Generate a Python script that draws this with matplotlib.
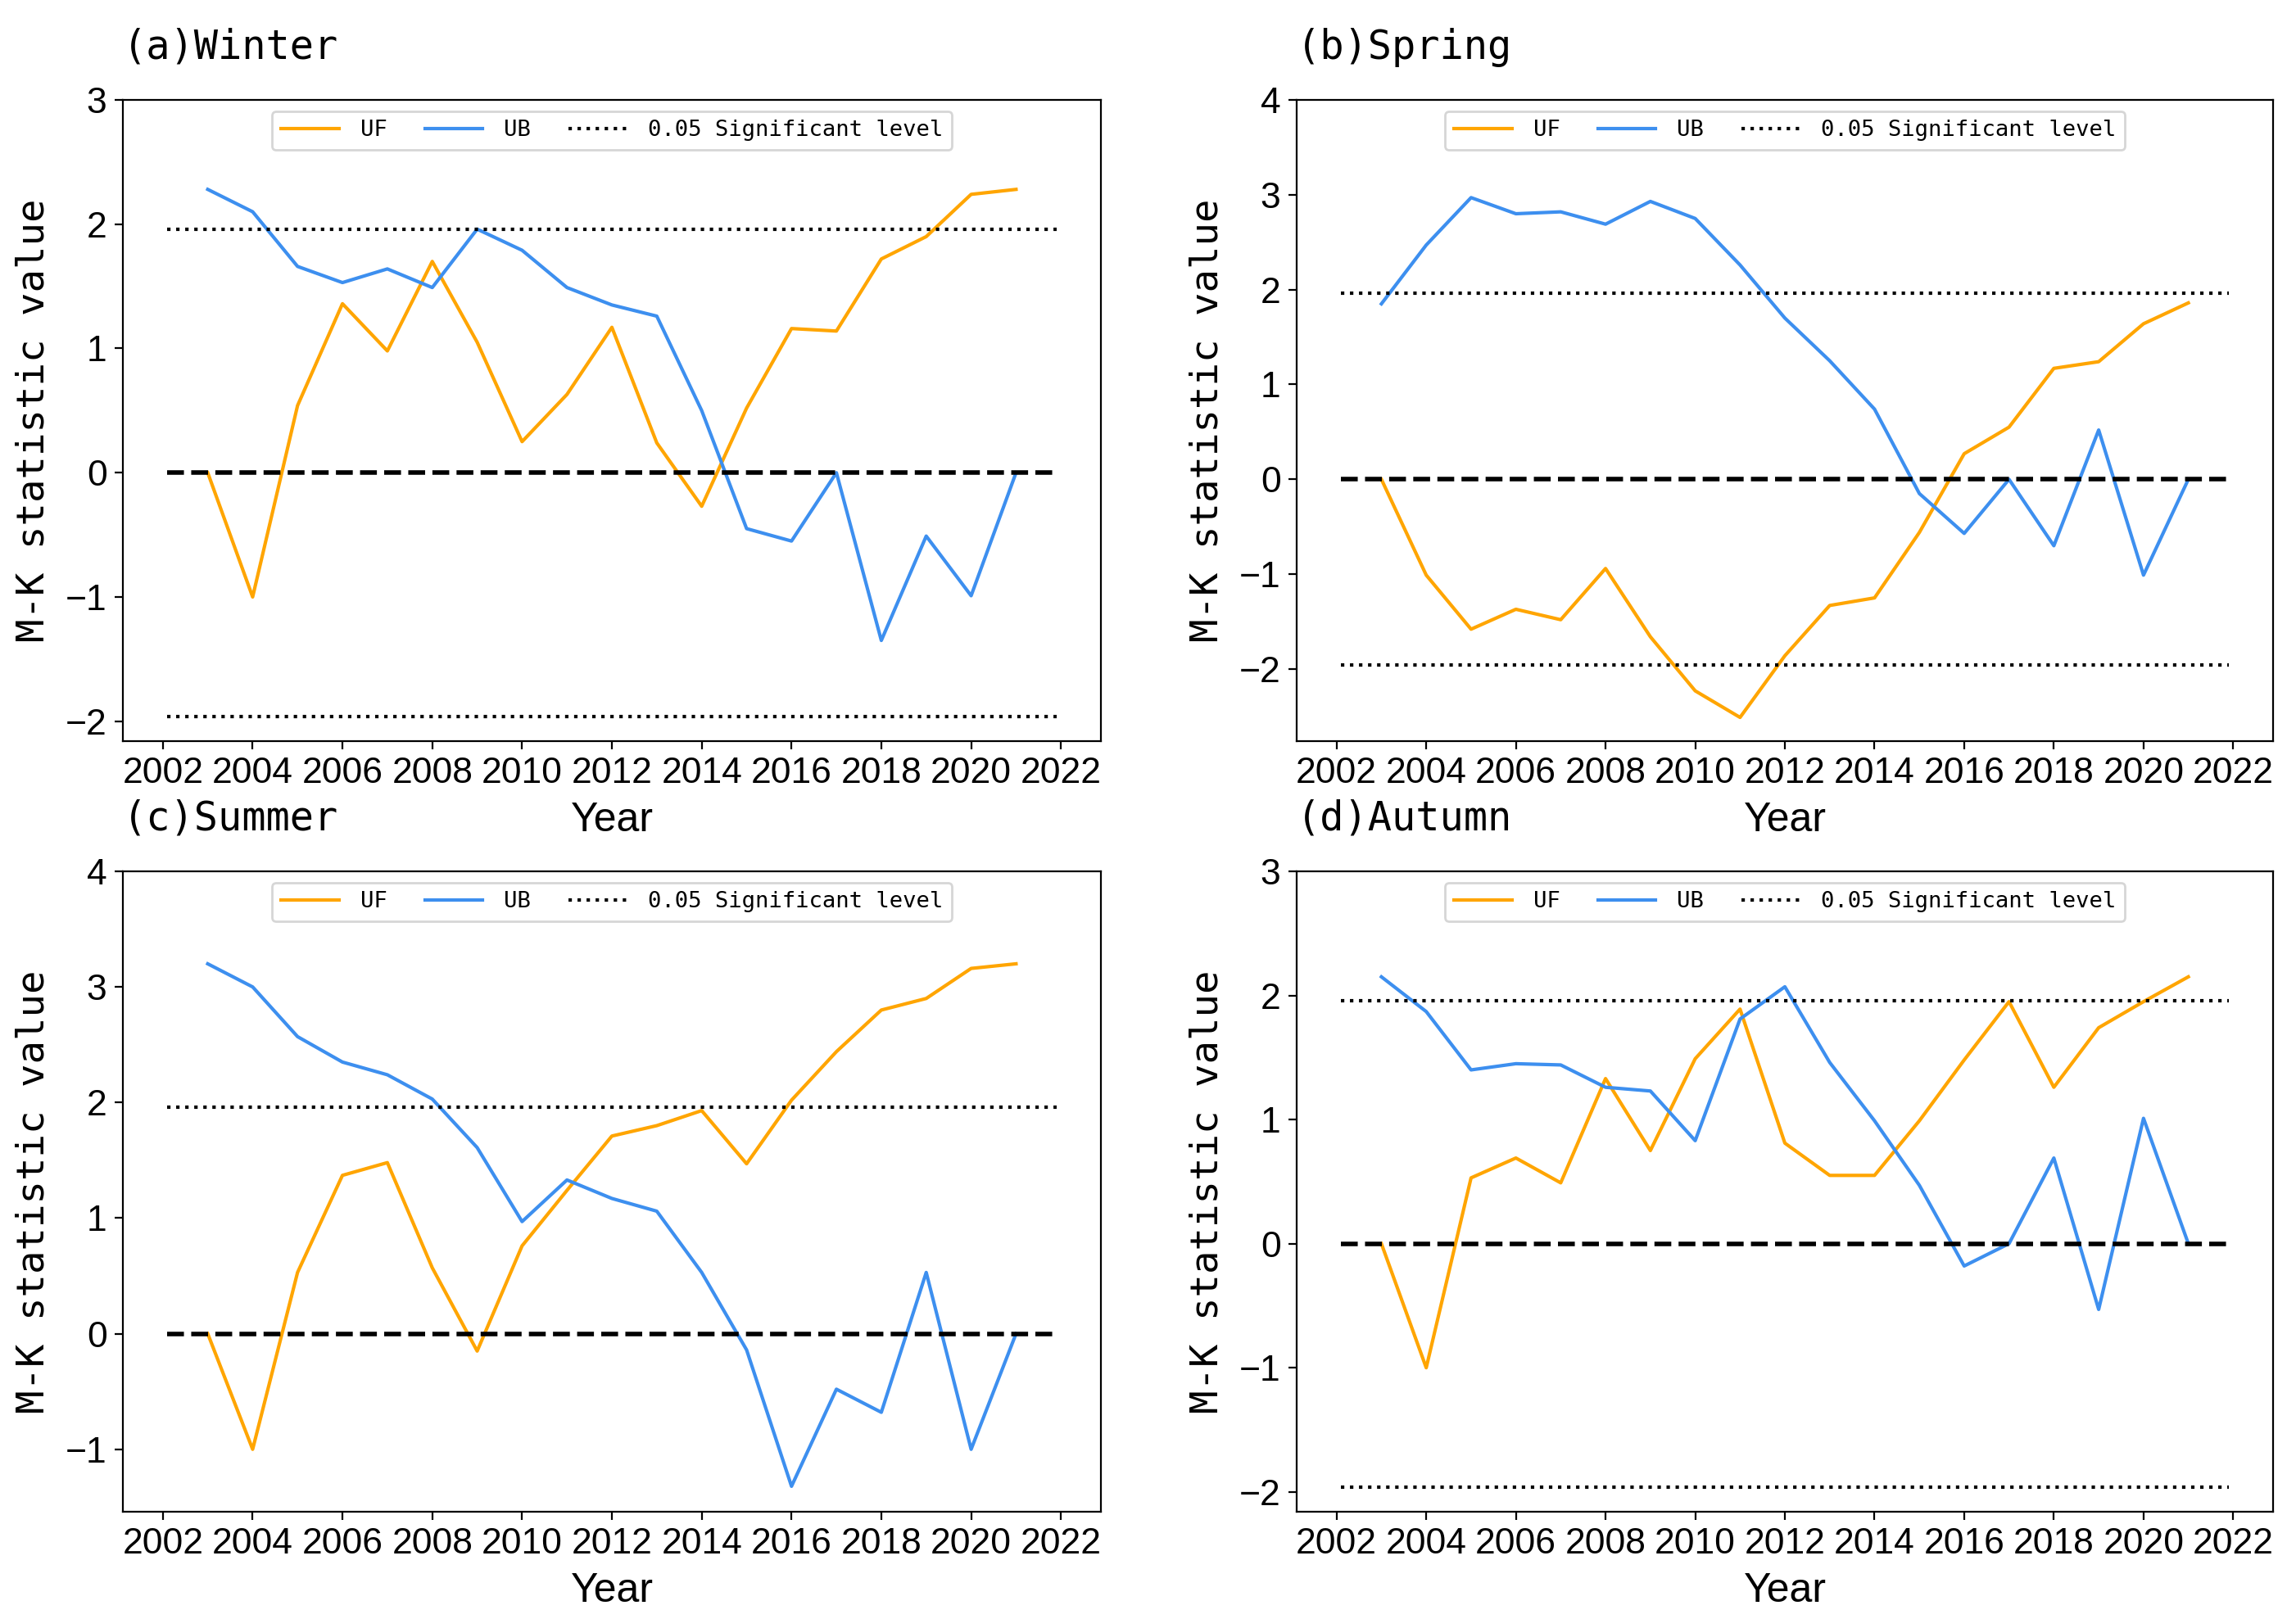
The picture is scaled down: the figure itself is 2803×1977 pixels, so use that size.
import matplotlib
matplotlib.use("Agg")
import matplotlib.pyplot as plt
from matplotlib import font_manager
from matplotlib.ticker import MultipleLocator

years = list(range(2003, 2022))

winter_uf = [0, -1.0, 0.54, 1.36, 0.98, 1.70, 1.05, 0.25, 0.63, 1.17, 0.24, -0.27, 0.52, 1.16, 1.14, 1.72, 1.90, 2.24, 2.28]
winter_ub = [2.28, 2.10, 1.66, 1.53, 1.64, 1.49, 1.96, 1.79, 1.49, 1.35, 1.26, 0.50, -0.45, -0.55, 0, -1.35, -0.51, -0.99, 0]

spring_uf = [0, -1.01, -1.58, -1.37, -1.48, -0.94, -1.66, -2.23, -2.51, -1.86, -1.33, -1.25, -0.56, 0.27, 0.55, 1.17, 1.24, 1.64, 1.86]
spring_ub = [1.85, 2.47, 2.97, 2.80, 2.82, 2.69, 2.93, 2.75, 2.26, 1.70, 1.25, 0.74, -0.15, -0.57, 0, -0.70, 0.52, -1.01, 0]

summer_uf = [0, -1.0, 0.53, 1.37, 1.48, 0.57, -0.15, 0.76, 1.24, 1.71, 1.80, 1.93, 1.47, 2.02, 2.44, 2.80, 2.90, 3.16, 3.20]
summer_ub = [3.20, 3.00, 2.57, 2.35, 2.24, 2.03, 1.61, 0.97, 1.33, 1.17, 1.06, 0.53, -0.14, -1.32, -0.48, -0.68, 0.53, -1.0, 0]

autumn_uf = [0, -1.0, 0.53, 0.69, 0.49, 1.33, 0.75, 1.49, 1.89, 0.81, 0.55, 0.55, 0.99, 1.48, 1.95, 1.26, 1.74, 1.95, 2.15]
autumn_ub = [2.15, 1.87, 1.40, 1.45, 1.44, 1.26, 1.23, 0.83, 1.81, 2.07, 1.46, 0.99, 0.47, -0.18, 0, 0.69, -0.53, 1.01, 0]

titles = ["(a)Winter", "(b)Spring", "(c)Summer", "(d)Autumn"]
series = [(winter_uf, winter_ub), (spring_uf, spring_ub), (summer_uf, summer_ub), (autumn_uf, autumn_ub)]
ylims = [(-2.16, 3.0), (-2.76, 4.0), (-1.54, 4.0), (-2.16, 3.0)]
sig_level = 1.96
line_span = (2002.1, 2021.9)
xlim = (2001.11, 2022.89)

names = {f.name for f in font_manager.fontManager.ttflist}
if "Liberation Sans Narrow" in names:
    tick_font = ["Liberation Sans Narrow", "DejaVu Sans"]
    tick_size = 17.5
else:
    tick_font = ["Liberation Sans", "DejaVu Sans"]
    tick_size = 16
mono = ["DejaVu Sans Mono", "DejaVu Sans"]

W, H = 2803, 1977
dpi = 200
fig = plt.figure(figsize=(W / dpi, H / dpi), dpi=dpi)

rects = [
    (150 / W, 1 - 905 / H, 1194 / W, 783 / H),
    (1583 / W, 1 - 905 / H, 1192 / W, 783 / H),
    (150 / W, 1 - 1846 / H, 1194 / W, 782 / H),
    (1583 / W, 1 - 1846 / H, 1192 / W, 782 / H),
]

UF_COLOR = "#FFA500"
UB_COLOR = "#3D8FEF"

for i, ax_rect in enumerate(rects):
    ax = fig.add_axes(ax_rect)
    uf, ub = series[i]
    ax.plot(years, uf, color=UF_COLOR, lw=1.5, label="UF")
    ax.plot(years, ub, color=UB_COLOR, lw=1.5, label="UB")
    ax.plot(line_span, [sig_level, sig_level], color="black", ls=":", lw=1.5,
            label="0.05 Significant level")
    ax.plot(line_span, [-sig_level, -sig_level], color="black", ls=":", lw=1.5)
    ax.plot(line_span, [0, 0], color="black", ls="--", lw=2)
    ax.set_xlim(*xlim)
    ax.set_ylim(*ylims[i])
    ax.xaxis.set_major_locator(MultipleLocator(2))
    ax.yaxis.set_major_locator(MultipleLocator(1))
    for lab in ax.get_xticklabels() + ax.get_yticklabels():
        lab.set_fontfamily(tick_font)
        lab.set_fontsize(tick_size)
    ax.set_xlabel("Year", fontfamily=["Liberation Sans", "DejaVu Sans"], fontsize=18, labelpad=5)
    ax.set_ylabel("M-K statistic value", fontfamily=mono, fontsize=17, labelpad=6)
    ax.set_title(titles[i], loc="left", fontfamily=mono, fontsize=17.5, pad=18)
    ax.legend(loc="upper center", ncol=3, prop={"family": mono, "size": 9.8},
              handlelength=2.6, handletextpad=0.95, columnspacing=1.7)

fig.savefig("out.png", dpi=dpi)
